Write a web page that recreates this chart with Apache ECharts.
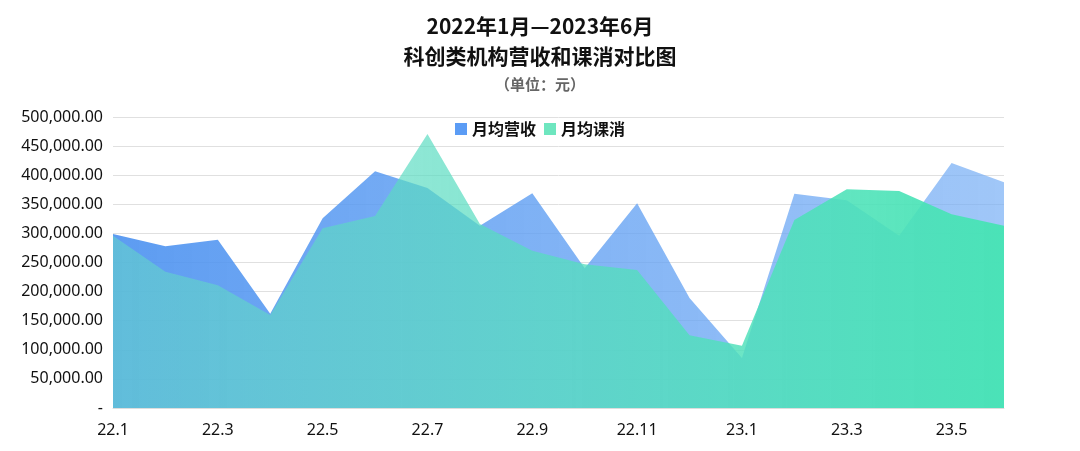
<!DOCTYPE html><html><head><meta charset="utf-8"><script src="https://cdn.jsdelivr.net/npm/echarts@6/dist/echarts.min.js"></script></head><body style="margin:0"><div id="c" style="width:1080px;height:451px"></div><script>
const categories=['22.1','22.2','22.3','22.4','22.5','22.6','22.7','22.8','22.9','22.10','22.11','22.12','23.1','23.2','23.3','23.4','23.5','23.6'];
const revenue=[299000,278000,289000,162000,326000,407000,378000,313000,369000,240000,352000,189000,86000,368000,357000,296000,421000,388000];
const consume=[296000,234000,211000,160000,309000,330000,471000,316000,270000,247000,237000,125000,107000,323000,376000,373000,333000,313000];
const c=echarts.init(document.getElementById('c'));
const h=(a,b)=>new echarts.graphic.LinearGradient(0,0,1,0,[{offset:0,color:a},{offset:1,color:b}]);
c.setOption({
title:[{text:'2022年1月—2023年6月\n科创类机构营收和课消对比图',left:'center',top:6,textStyle:{fontSize:21,fontWeight:'bold',color:'#111',lineHeight:30,fontFamily:'Noto Sans CJK SC'}},
{text:'（单位：元）',left:'center',top:72,textStyle:{fontSize:15,fontWeight:'bold',color:'#666',fontFamily:'Noto Sans CJK SC'}}],
legend:{top:116,left:'center',itemWidth:12,itemHeight:12,icon:'rect',itemGap:8,textStyle:{fontSize:16,fontWeight:'bold',color:'#111',fontFamily:'Noto Sans CJK SC'}},
grid:{left:113,right:76,top:117,bottom:43},
xAxis:{type:'category',data:categories,boundaryGap:false,axisTick:{show:false},axisLine:{lineStyle:{color:'#ddd'}},axisLabel:{fontSize:16,color:'#111',margin:14,fontFamily:'Noto Sans'}},
yAxis:{type:'value',min:0,max:500000,interval:50000,axisLabel:{fontSize:16,color:'#111',margin:10,fontFamily:'Noto Sans',formatter:v=>v===0?'-':v.toLocaleString('en-US',{minimumFractionDigits:2,maximumFractionDigits:2})},splitLine:{lineStyle:{color:'#e0e0e0'}}},
series:[
{name:'月均营收',type:'line',data:revenue,symbol:'none',lineStyle:{width:0},itemStyle:{color:'#5b9cf5'},areaStyle:{color:h('rgba(75,145,240,0.9)','rgba(120,175,245,0.7)'),opacity:1}},
{name:'月均课消',type:'line',data:consume,symbol:'none',lineStyle:{width:0},itemStyle:{color:'#6ee6bf'},areaStyle:{color:h('rgba(100,215,200,0.55)','rgba(70,228,180,0.95)'),opacity:1}}
]});
</script></body></html>
